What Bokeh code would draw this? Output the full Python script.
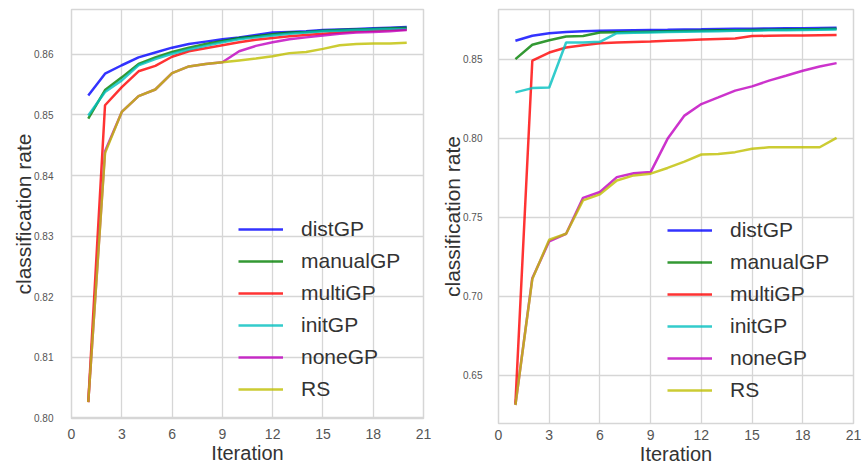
from bokeh.plotting import figure
from bokeh.layouts import row
from bokeh.models import FixedTicker, Range1d, PrintfTickFormatter
from bokeh.embed import file_html
from bokeh.resources import INLINE

iterations = list(range(1, 21))
series_names = ["distGP", "manualGP", "multiGP", "initGP", "noneGP", "RS"]

left_dist = [0.8532, 0.8568, 0.8582, 0.8595, 0.8603, 0.8611, 0.8617, 0.8621, 0.8625, 0.8628,
             0.8632, 0.8636, 0.8637, 0.8638, 0.8640, 0.8641, 0.8642, 0.8643, 0.8644, 0.8645]
left_manual = [0.8494, 0.8541, 0.8562, 0.8584, 0.8595, 0.8604, 0.8611, 0.8617, 0.8622, 0.8627,
               0.8630, 0.8633, 0.8636, 0.8637, 0.8639, 0.8640, 0.8641, 0.8642, 0.8643, 0.8644]
left_multi = [0.8026, 0.8516, 0.8546, 0.8572, 0.8581, 0.8596, 0.8605, 0.8610, 0.8615, 0.8620,
              0.8624, 0.8627, 0.8630, 0.8632, 0.8634, 0.8636, 0.8638, 0.8639, 0.8640, 0.8641]
left_init = [0.8499, 0.8538, 0.8557, 0.8582, 0.8592, 0.8601, 0.8608, 0.8614, 0.8620, 0.8625,
             0.8628, 0.8631, 0.8634, 0.8636, 0.8638, 0.8639, 0.8640, 0.8641, 0.8642, 0.8642]
left_none = [0.8026, 0.8440, 0.8505, 0.8531, 0.8542, 0.8569, 0.8580, 0.8584, 0.8587, 0.8605,
             0.8614, 0.8620, 0.8625, 0.8628, 0.8631, 0.8634, 0.8636, 0.8637, 0.8638, 0.8640]
left_rs = [0.8026, 0.8437, 0.8505, 0.8531, 0.8542, 0.8569, 0.8580, 0.8584, 0.8587, 0.8590,
           0.8593, 0.8597, 0.8602, 0.8604, 0.8609, 0.8615, 0.8617, 0.8618, 0.8618, 0.8619]

right_dist = [0.8616, 0.8648, 0.8664, 0.8672, 0.8676, 0.8679, 0.8681, 0.8683, 0.8685, 0.8686,
              0.8688, 0.8689, 0.8691, 0.8692, 0.8693, 0.8694, 0.8695, 0.8696, 0.8697, 0.8698]
right_manual = [0.8500, 0.8591, 0.8620, 0.8643, 0.8647, 0.8668, 0.8670, 0.8672, 0.8674, 0.8676,
                0.8678, 0.8680, 0.8682, 0.8683, 0.8685, 0.8686, 0.8688, 0.8689, 0.8690, 0.8692]
right_multi = [0.6320, 0.8490, 0.8542, 0.8574, 0.8588, 0.8601, 0.8605, 0.8609, 0.8612, 0.8616,
               0.8620, 0.8624, 0.8627, 0.8630, 0.8646, 0.8648, 0.8649, 0.8650, 0.8651, 0.8652]
right_init = [0.8290, 0.8317, 0.8321, 0.8605, 0.8605, 0.8610, 0.8664, 0.8667, 0.8669, 0.8671,
              0.8673, 0.8675, 0.8677, 0.8679, 0.8680, 0.8682, 0.8683, 0.8685, 0.8686, 0.8688]
right_none = [0.6313, 0.7115, 0.7348, 0.7396, 0.7623, 0.7660, 0.7754, 0.7779, 0.7786, 0.7996,
              0.8143, 0.8216, 0.8258, 0.8301, 0.8328, 0.8364, 0.8395, 0.8427, 0.8454, 0.8475]
right_rs = [0.6313, 0.7110, 0.7358, 0.7396, 0.7607, 0.7645, 0.7733, 0.7765, 0.7776, 0.7812,
            0.7852, 0.7897, 0.7900, 0.7912, 0.7933, 0.7943, 0.7943, 0.7943, 0.7943, 0.8002]

x_ticks = [0, 3, 6, 9, 12, 15, 18, 21]
left_y_ticks = [0.80, 0.81, 0.82, 0.83, 0.84, 0.85, 0.86]
right_y_ticks = [0.65, 0.70, 0.75, 0.80, 0.85]

colors = ["#0000ff", "#008000", "#ff0000", "#00bfbf", "#bf00bf", "#bfbf00"]
FONT = "Liberation Sans"
GRID = "#d6d6d6"


def make_fig(series, yr, yticks, fw, fh, mbl, mbr, mbt, mbb, leg_loc, tick_standoff, lab_standoff,
             x_tick_standoff):
    p = figure(output_backend="svg", toolbar_location=None,
               frame_width=fw, frame_height=fh,
               min_border_left=mbl, min_border_right=mbr,
               min_border_top=mbt, min_border_bottom=mbb,
               x_range=Range1d(0, 21), y_range=Range1d(*yr))
    p.background_fill_color = "white"
    p.border_fill_color = "white"
    p.outline_line_color = GRID
    p.outline_line_width = 1.5
    for name, ys, c in zip(series_names, series, colors):
        p.line(iterations, ys, line_color=c, line_alpha=0.8, line_width=2.5, legend_label=name)

    p.xaxis.ticker = FixedTicker(ticks=x_ticks)
    p.yaxis.ticker = FixedTicker(ticks=yticks)
    p.yaxis.formatter = PrintfTickFormatter(format="%.2f")
    p.xgrid.grid_line_color = GRID
    p.ygrid.grid_line_color = GRID
    p.xgrid.grid_line_width = 1.3
    p.ygrid.grid_line_width = 1.3
    for ax in (p.xaxis, p.yaxis):
        ax.axis_line_color = None
        ax.major_tick_line_color = None
        ax.minor_tick_line_color = None
        ax.major_tick_out = 0
        ax.major_tick_in = 0
        ax.minor_tick_out = 0
        ax.major_label_text_font = FONT
        ax.axis_label_text_font = FONT
        ax.axis_label_text_font_style = "normal"
        ax.axis_label_text_color = "#333333"
        ax.major_label_text_color = "#555555"
    p.xaxis.axis_label = "Iteration"
    p.yaxis.axis_label = "classification rate"
    p.xaxis.axis_label_text_font_size = "20px"
    p.yaxis.axis_label_text_font_size = "21px"
    p.xaxis.major_label_text_font_size = "14px"
    p.yaxis.major_label_text_font_size = "10px"
    p.xaxis.major_label_standoff = x_tick_standoff
    p.yaxis.major_label_standoff = tick_standoff
    p.xaxis.axis_label_standoff = 0
    p.yaxis.axis_label_standoff = lab_standoff

    lg = p.legend[0]
    lg.location = leg_loc
    lg.border_line_alpha = 0
    lg.background_fill_alpha = 0
    lg.padding = 0
    lg.margin = 0
    lg.spacing = 2
    lg.glyph_width = 45
    lg.glyph_height = 30
    lg.label_height = 30
    lg.label_standoff = 18
    lg.label_text_font = FONT
    lg.label_text_font_size = "21px"
    lg.label_text_color = "#333333"
    return p


p1 = make_fig([left_dist, left_manual, left_multi, left_init, left_none, left_rs],
              (0.7999, 0.8674), left_y_ticks, 352, 409, 71, 15, 9, 40, (167, 14), 18, -4, 10)
p2 = make_fig([right_dist, right_manual, right_multi, right_init, right_none, right_rs],
              (0.6196, 0.8814), right_y_ticks, 355, 414, 60, 9, 7, 40, (169, 18), 16, -4, 6)

layout = row(p1, p2)
open("out.html", "w").write(file_html(layout, INLINE))
